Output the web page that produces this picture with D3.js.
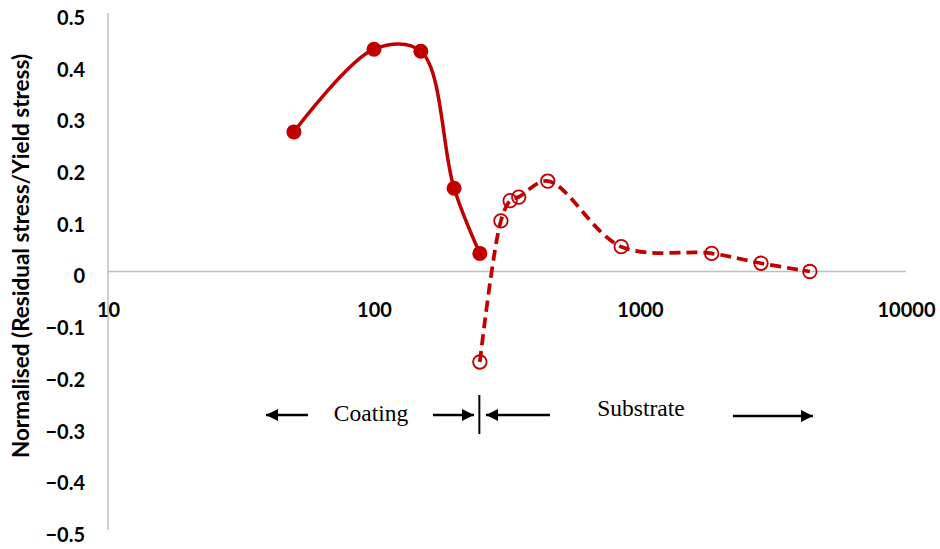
<!DOCTYPE html>
<html>
<head>
<meta charset="utf-8">
<script src="https://cdn.jsdelivr.net/npm/d3@7/dist/d3.min.js"></script>
<style>
  html, body { margin: 0; padding: 0; background: #fff; }
  svg { display: block; }
</style>
</head>
<body>
<svg id="chart" width="940" height="549"></svg>
<script>
// Depth (log axis) and normalised residual stress for the coating and substrate
const coatingDepth  = [50, 100, 150, 200, 250];
const coatingStress = [0.27, 0.43, 0.426, 0.161, 0.035];

const substrateDepth  = [250, 300, 325, 350, 450, 850, 1860, 2850, 4350];
const substrateStress = [-0.175, 0.098, 0.137, 0.144, 0.175, 0.048, 0.035, 0.016, 0.0];

const xTicks = [10, 100, 1000, 10000];
const yTicks = [0.5, 0.4, 0.3, 0.2, 0.1, 0, -0.1, -0.2, -0.3, -0.4, -0.5];

const yTitle = "Normalised (Residual stress/Yield stress)";

const red = "#C00000";
const axisGrey = "#BFBFBF";
const tickFont = "Lato, 'Open Sans', sans-serif";

const svg = d3.select("#chart");

const x = d3.scaleLog().domain([10, 10000]).range([108, 906]);
const y = d3.scaleLinear().domain([-0.5, 0.5]).range([530, 13]);

// Axis lines: vertical value axis and horizontal category axis at zero
svg.append("line")
  .attr("x1", x(10)).attr("x2", x(10))
  .attr("y1", y(0.5)).attr("y2", y(-0.5))
  .attr("stroke", axisGrey).attr("stroke-width", 1.5);
svg.append("line")
  .attr("x1", x(10)).attr("x2", x(10000))
  .attr("y1", y(0)).attr("y2", y(0))
  .attr("stroke", axisGrey).attr("stroke-width", 1.5);

// Y tick labels
const yAxis = svg.append("g")
  .attr("transform", `translate(${x(10)},0)`)
  .call(d3.axisLeft(y).tickValues(yTicks).tickSize(0).tickPadding(23)
        .tickFormat(d => d === 0 ? "0" : d3.format("")(d)));
yAxis.select(".domain").remove();
yAxis.selectAll("text")
  .attr("dy", "0.32em")
  .attr("transform", "translate(0,5)")
  .style("font-family", tickFont)
  .style("font-weight", "bold")
  .style("font-size", "20px")
  .attr("fill", "#000");

// X tick labels
const xAxis = svg.append("g")
  .attr("transform", `translate(0,${y(0)})`)
  .call(d3.axisBottom(x).tickValues(xTicks).tickSize(0).tickPadding(0)
        .tickFormat(d3.format("d")));
xAxis.select(".domain").remove();
xAxis.selectAll("text")
  .attr("dy", "0")
  .attr("y", 45)
  .style("font-family", tickFont)
  .style("font-weight", "bold")
  .style("font-size", "20px")
  .attr("fill", "#000");

// Y axis title
svg.append("text")
  .attr("transform", `translate(29,${256}) rotate(-90)`)
  .attr("text-anchor", "middle")
  .style("font-family", tickFont)
  .style("font-weight", "bold")
  .style("font-size", "22.5px")
  .attr("fill", "#000")
  .text(yTitle);

const coating = coatingDepth.map((d, i) => [d, coatingStress[i]]);
const substrate = substrateDepth.map((d, i) => [d, substrateStress[i]]);

const line = d3.line()
  .x(d => x(d[0]))
  .y(d => y(d[1]))
  .curve(d3.curveCatmullRom.alpha(0.5));

// Substrate: dashed smoothed line with open markers
svg.append("path")
  .datum(substrate)
  .attr("d", line)
  .attr("fill", "none")
  .attr("stroke", red)
  .attr("stroke-width", 3.75)
  .attr("stroke-dasharray", "11,6");

svg.selectAll("circle.sub")
  .data(substrate)
  .join("circle")
  .attr("class", "sub")
  .attr("cx", d => x(d[0]))
  .attr("cy", d => y(d[1]))
  .attr("r", 6.75)
  .attr("fill", "none")
  .attr("stroke", red)
  .attr("stroke-width", 1.8);

// Coating: solid smoothed line with filled markers
svg.append("path")
  .datum(coating)
  .attr("d", line)
  .attr("fill", "none")
  .attr("stroke", red)
  .attr("stroke-width", 3.5);

svg.selectAll("circle.coat")
  .data(coating)
  .join("circle")
  .attr("class", "coat")
  .attr("cx", d => x(d[0]))
  .attr("cy", d => y(d[1]))
  .attr("r", 7.5)
  .attr("fill", red);

// Region annotations below the curves
const defs = svg.append("defs");
defs.append("marker")
  .attr("id", "head")
  .attr("viewBox", "0 0 10 10")
  .attr("refX", 10).attr("refY", 5)
  .attr("markerUnits", "userSpaceOnUse")
  .attr("markerWidth", 14).attr("markerHeight", 12)
  .attr("orient", "auto")
  .append("path")
  .attr("d", "M0,0 L10,5 L0,10 Z")
  .attr("fill", "#000");

const arrows = [
  { x1: 308, x2: 266, y: 415 },
  { x1: 433, x2: 474, y: 415 },
  { x1: 550, x2: 486, y: 415 },
  { x1: 733, x2: 813, y: 416 }
];
svg.selectAll("line.arrow")
  .data(arrows)
  .join("line")
  .attr("class", "arrow")
  .attr("x1", d => d.x1).attr("x2", d => d.x2)
  .attr("y1", d => d.y).attr("y2", d => d.y)
  .attr("stroke", "#000")
  .attr("stroke-width", 2.5)
  .attr("marker-end", "url(#head)");

svg.append("line")
  .attr("x1", x(250) - 0.5).attr("x2", x(250) - 0.5)
  .attr("y1", 395).attr("y2", 434)
  .attr("stroke", "#000").attr("stroke-width", 2);

const labelFont = "'Liberation Serif', 'Times New Roman', serif";
svg.append("text")
  .attr("x", 371).attr("y", 421)
  .attr("text-anchor", "middle")
  .style("font-family", labelFont)
  .style("font-size", "23.5px")
  .attr("fill", "#000")
  .text("Coating");
svg.append("text")
  .attr("x", 641).attr("y", 416)
  .attr("text-anchor", "middle")
  .style("font-family", labelFont)
  .style("font-size", "23.5px")
  .attr("fill", "#000")
  .text("Substrate");
</script>
</body>
</html>
